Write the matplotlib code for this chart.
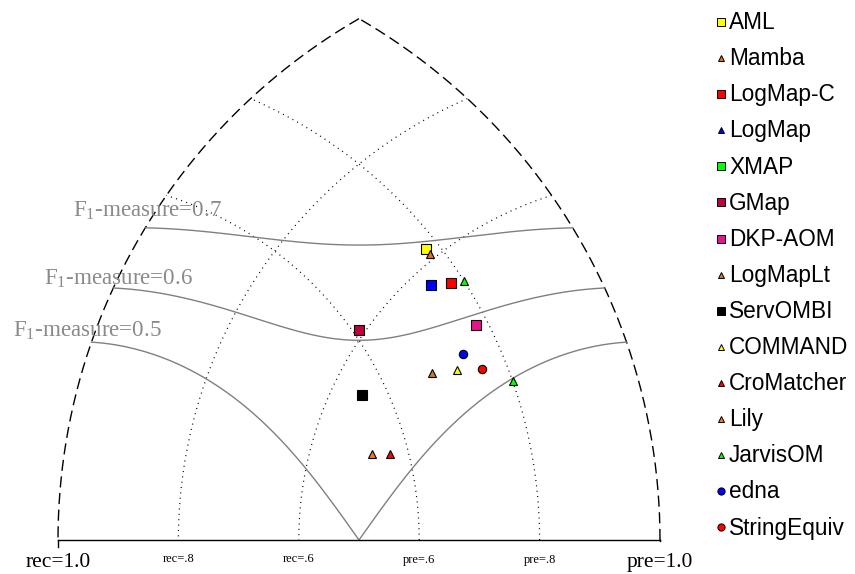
import numpy as np
import matplotlib
matplotlib.use('Agg')
import matplotlib.pyplot as plt
from matplotlib.lines import Line2D

plt.rcParams['mathtext.fontset'] = 'custom'
plt.rcParams['mathtext.rm'] = 'Liberation Serif'
plt.rcParams['mathtext.it'] = 'Liberation Serif'
plt.rcParams['mathtext.default'] = 'rm'

# ---------------- data ----------------
systems = ['AML', 'Mamba', 'LogMap-C', 'LogMap', 'XMAP', 'GMap', 'DKP-AOM',
           'LogMapLt', 'ServOMBI', 'COMMAND', 'CroMatcher', 'Lily',
           'JarvisOM', 'edna', 'StringEquiv']
precision = [0.78, 0.78, 0.78, 0.75, 0.80, 0.61, 0.78, 0.68, 0.56, 0.72,
             0.57, 0.54, 0.80, 0.74, 0.76]
recall = [0.62, 0.61, 0.55, 0.57, 0.54, 0.61, 0.47, 0.47, 0.55, 0.44,
          0.47, 0.50, 0.36, 0.45, 0.41]
colors = ['#ffff00', '#e56f12', '#ff0000', '#0000ff', '#00ff00', '#c0003c',
          '#e8148c', '#c87a38', '#000000', '#ffff00', '#ff0000', '#f07a1a',
          '#00ff00', '#0000ff', '#ff0000']
plot_markers = ['s', '^', 's', 's', '^', 's', 's', '^', 's', '^', '^', '^',
                '^', 'o', 'o']
legend_markers = ['s', '^', 's', '^', 's', 's', 's', '^', 's', '^', '^', '^',
                  '^', 'o', 'o']
f_levels = [0.5, 0.6, 0.7]
f_labels = ['F$_1$-measure=0.5', 'F$_1$-measure=0.6', 'F$_1$-measure=0.7']
grid_levels = [0.6, 0.8]

# ---------------- layout helpers ----------------
W, H = 855, 574
L = 602.0
X0, Y0 = 58.0, 540.0


def px2d(px, py):
    return (px - X0) / L, (Y0 - py) / L


def pr2xy(p, r):
    p = np.asarray(p, float)
    r = np.asarray(r, float)
    x = (p ** 2 - r ** 2 + 1) / 2
    y = np.sqrt(np.maximum(p ** 2 - x ** 2, 0))
    return x, y


fig = plt.figure(figsize=(W / 100, H / 100), dpi=100)
ax = fig.add_axes([0, 0, 1, 1])
ax.set_xlim(-X0 / L, (W - X0) / L)
ax.set_ylim((Y0 - H) / L, Y0 / L)
ax.axis('off')

# outer dashed arcs (rec=1 and pre=1)
t = np.linspace(np.pi * 2 / 3, np.pi, 300)
ax.plot(1 + np.cos(t), np.sin(t), color='black', lw=1.0, ls=(0, (8, 4)))
t = np.linspace(0, np.pi / 3, 300)
ax.plot(np.cos(t), np.sin(t), color='black', lw=1.0, ls=(0, (8, 4)))

# dotted grid arcs
for g in grid_levels:
    xi = g ** 2 / 2
    yi = np.sqrt(g ** 2 - xi ** 2)
    a = np.arctan2(yi, xi)
    t = np.linspace(0, a, 300)
    ax.plot(g * np.cos(t), g * np.sin(t), color='black', lw=0.9,
            ls=(0, (0.8, 3.5)))
    t = np.linspace(np.pi - a, np.pi, 300)
    ax.plot(1 + g * np.cos(t), g * np.sin(t), color='black', lw=0.9,
            ls=(0, (0.8, 3.5)))

# F-measure curves
for f in f_levels:
    p = np.linspace(f / (2 - f), 1.0, 600)
    r = f * p / (2 * p - f)
    x, y = pr2xy(p, r)
    ax.plot(x, y, color='#808080', lw=1.0)

label_pos = [(162, 337), (193, 285), (222, 217)]
for lab, (lx, ly) in zip(f_labels, label_pos):
    dx, dy = px2d(lx, ly)
    ax.text(dx, dy, lab, ha='right', va='baseline', color='#8a8a8a',
            fontsize=16.6, family='Liberation Serif')

# base line
ax.plot([0, 1], [0, 0], color='black', lw=1.0)
ax.plot([0, 0], [0, -7 / L], color='black', lw=1.0)
ax.plot([1, 1], [0, -1 / L], color='black', lw=1.0)

# base labels
_, by_big = px2d(0, 567)
_, by_small = px2d(0, 562.5)
ax.text(0, by_big, 'rec=1.0', ha='center', va='baseline', fontsize=15.5,
        family='Liberation Serif')
ax.text(1, by_big, 'pre=1.0', ha='center', va='baseline', fontsize=15.5,
        family='Liberation Serif')
for g in sorted(grid_levels, reverse=True):
    ax.text(1 - g, by_small, 'rec=.%d' % round(g * 10), ha='center',
            va='baseline', fontsize=9, family='Liberation Serif')
for g in grid_levels:
    ax.text(g, by_small, 'pre=.%d' % round(g * 10), ha='center',
            va='baseline', fontsize=9, family='Liberation Serif')

# points
msizes = {'s': 6.5, '^': 6.0, 'o': 6.0}
for name, p, r, c, m in zip(systems, precision, recall, colors, plot_markers):
    x, y = pr2xy(p, r)
    ax.plot([x], [y], marker=m, ms=msizes[m], mfc=c, mec='black', mew=0.8,
            ls='none', zorder=5)

# legend (manual)
lsizes = {'s': 5.4, '^': 5.0, 'o': 5.2}
for i, (name, c, m) in enumerate(zip(systems, colors, legend_markers)):
    yc = 22 + 36.1 * i
    fig.add_artist(Line2D([721 / W], [1 - yc / H], marker=m, ms=lsizes[m],
                          mfc=c, mec='black', mew=0.7, ls='none',
                          transform=fig.transFigure))
    fig.text(729 / W, 1 - (yc + 7.2) / H, name, ha='left', va='baseline',
             fontsize=16.3, family='Liberation Sans')

fig.savefig('out.png', dpi=100)
